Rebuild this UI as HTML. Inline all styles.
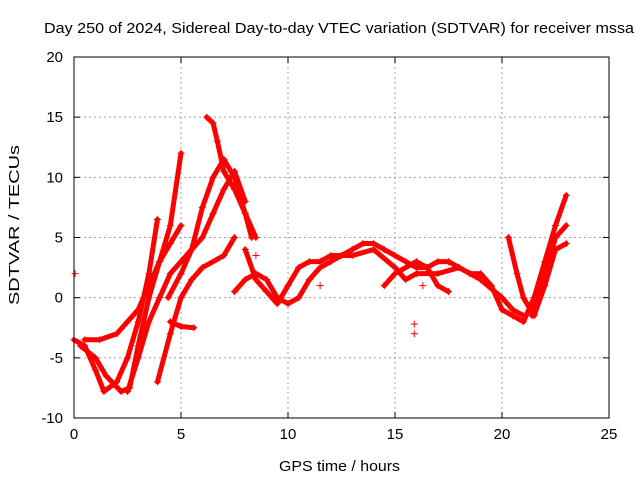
<!DOCTYPE html>
<html><head><meta charset="utf-8"><style>
body{margin:0;background:#fff}
svg{display:block;font-family:"Liberation Sans",sans-serif}
</style></head><body>
<svg id="chart" width="640" height="480" viewBox="0 0 640 480">
<text x="44" y="33" font-size="15" textLength="590" lengthAdjust="spacingAndGlyphs">Day 250 of 2024, Sidereal Day-to-day VTEC variation (SDTVAR) for receiver mssa</text>
<g id="grid"></g>
<g id="axes"></g>
<g id="series"></g>
<rect x="74" y="57" width="535" height="361" fill="none" stroke="#000" stroke-width="1"/>
<text x="279" y="471" font-size="15" textLength="121" lengthAdjust="spacingAndGlyphs">GPS time / hours</text>
<text transform="translate(19,305) rotate(-90)" font-size="15" textLength="160" lengthAdjust="spacingAndGlyphs">SDTVAR / TECUs</text>
</svg>
<script>
const xTicks=[0,5,10,15,20,25];
const yTicks=[-10,-5,0,5,10,15,20];
const track1=[[0,-3.5],[0.5,-4],[1,-6],[1.4,-7.8],[2,-7],[2.5,-5],[3,-2],[3.5,2],[3.9,6.5]];
const track2=[[0.3,-4],[1,-5],[1.5,-6.5],[2.2,-7.8],[2.6,-7.5],[3,-4],[3.5,0],[4,3],[4.5,6],[5,12]];
const track3=[[0.5,-3.5],[1.2,-3.5],[2,-3],[2.5,-2],[3,-1],[3.5,1],[4,3],[4.5,4.5],[5,6]];
const track4=[[2.5,-7.8],[3,-5],[3.5,-2],[4,0],[4.5,2],[5,3],[5.5,4],[6,5],[6.5,7],[7,9],[7.5,10.5],[8,8]];
const track5=[[3.9,-7],[4.5,-3],[5,0],[5.5,1.5],[6,2.5],[7,3.5],[7.5,5]];
const track6=[[4.4,0],[5,2],[5.5,4],[6,7.5],[6.5,10],[7,11.5],[7.5,10],[8,7],[8.5,5]];
const track7=[[6.2,15],[6.5,14.5],[6.7,13],[7,10.5],[7.5,9],[8,7],[8.3,5]];
const track8=[[4.5,-2],[5,-2.4],[5.6,-2.5]];
const midA=[[7.5,0.5],[8,1.5],[8.5,2],[9,1.5],[9.5,0],[10,-0.5],[10.5,0],[11,1.5],[11.5,2.5],[12,3],[12.5,3.5],[13,4],[13.5,4.5],[14,4.5],[14.5,4],[15,3.5],[15.5,3],[16,2.5],[16.5,2.5],[17,3],[17.5,3],[18,2.5],[18.5,2],[19,2],[19.5,1],[20,-1],[20.5,-1.5],[21,-2],[21.5,0],[22,3],[22.5,6],[23,8.5]];
const midB=[[8,4],[8.5,1.5],[9,0.5],[9.5,-0.5],[10,1],[10.5,2.5],[11,3],[11.5,3],[12,3.5],[13,3.5],[14,4],[15,2.5],[15.5,1.5],[16,2],[17,2],[18,2.5],[19,1.5],[20,0],[20.5,-1],[21,-1.5]];
const midC=[[14.5,1],[15,2],[16,3],[16.5,2.5],[17,1],[17.5,0.5]];
const endA=[[20.3,5],[20.7,2],[21,0],[21.5,-1.5],[22,1],[22.5,4],[23,4.5]];
const endB=[[21.4,-1.5],[21.7,0],[22,2],[22.5,5],[23,6]];
const outliers=[[0.05,2],[15.9,-2.2],[15.9,-3],[8.5,3.5],[11.5,1],[16.3,1]];
const allSeries=[track1,track2,track3,track4,track5,track6,track7,track8,midA,midB,midC,endA,endB];

const NS="http://www.w3.org/2000/svg";
const X0=74,X1=609,Y0=418,Y1=57;
function xs(v){return X0+(v-0)/25*(X1-X0);}
function ys(v){return Y0-(v+10)/30*(Y0-Y1);}
function mk(t,a,p){const e=document.createElementNS(NS,t);for(const k in a)e.setAttribute(k,a[k]);p.appendChild(e);return e;}
const grid=document.getElementById('grid'),axes=document.getElementById('axes'),ser=document.getElementById('series');
xTicks.forEach(t=>{const x=xs(t);
 if(t>0&&t<25){const l=mk('line',{x1:x,x2:x,y1:Y1,y2:Y0,stroke:'#a0a0a0','stroke-dasharray':'2,3'},grid);
 
 }
 mk('line',{x1:x,x2:x,y1:Y0,y2:Y0-6,stroke:'#000'},axes);
 mk('line',{x1:x,x2:x,y1:Y1,y2:Y1+6,stroke:'#000'},axes);
 const tx=mk('text',{x:x,y:Y0+21,'font-size':15,'text-anchor':'middle'},axes);tx.textContent=t;
 
 });
yTicks.forEach(t=>{const y=ys(t);
 if(t>-10&&t<20){const l=mk('line',{x1:X0,x2:X1,y1:y,y2:y,stroke:'#a0a0a0','stroke-dasharray':'2,3'},grid);
 
 }
 mk('line',{x1:X0,x2:X0+6,y1:y,y2:y,stroke:'#000'},axes);
 mk('line',{x1:X1,x2:X1-6,y1:y,y2:y,stroke:'#000'},axes);
 const tx=mk('text',{x:X0-11,y:y+5,'font-size':15,'text-anchor':'end'},axes);tx.textContent=t;
 
 });
function plus(p,g){const x=xs(p[0]),y=ys(p[1]);
 const m=mk('path',{d:`M${x-3.5},${y}h7M${x},${y-3.5}v7`,stroke:'#f00','stroke-width':1},g);
 
 }
allSeries.forEach((s,i)=>{
 const g=mk('g',{},ser);
 
 
 mk('polyline',{points:s.map(p=>xs(p[0])+','+ys(p[1])).join(' '),fill:'none',stroke:'#f00','stroke-width':5,'stroke-linejoin':'round','stroke-linecap':'round'},g);
 s.forEach(p=>plus(p,g));
});
const og=mk('g',{},ser);


outliers.forEach(p=>plus(p,og));
</script>
</body></html>
